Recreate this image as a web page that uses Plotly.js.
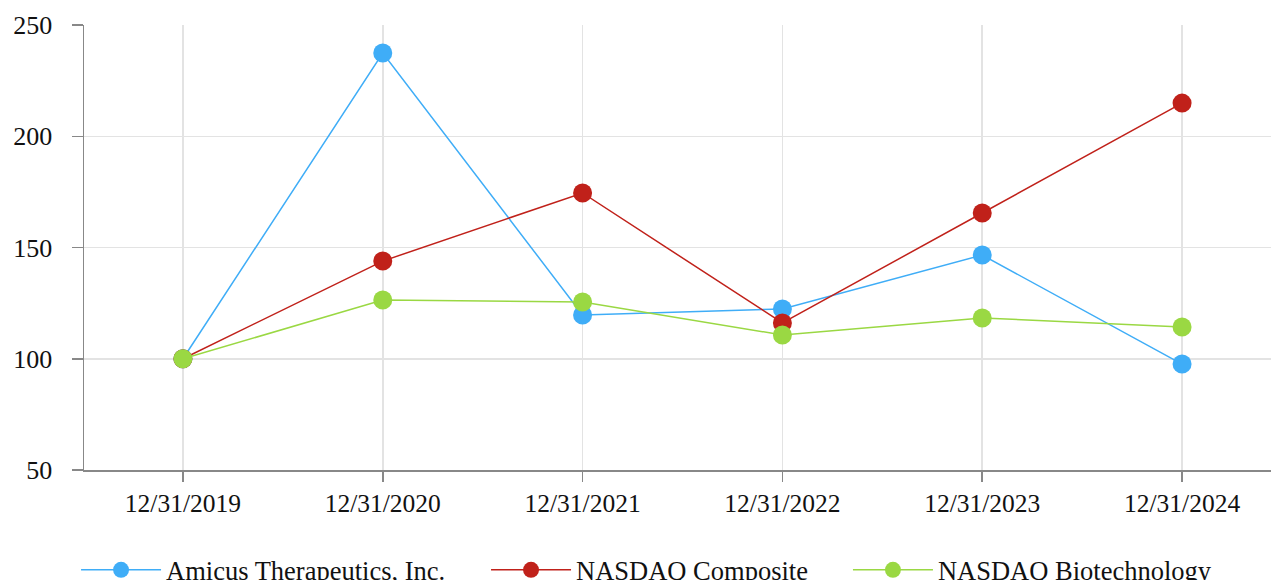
<!DOCTYPE html>
<html>
<head>
<meta charset="utf-8">
<script src="https://cdn.plot.ly/plotly-3.0.1.min.js"></script>
<style>html,body{margin:0;padding:0;background:#fff;}#chart{width:1271px;height:580px;}</style>
</head>
<body>
<div id="chart"></div>
<script>
const categories = ["12/31/2019", "12/31/2020", "12/31/2021", "12/31/2022", "12/31/2023", "12/31/2024"];
const amicus = [100, 237.4, 119.7, 122.4, 146.6, 97.6];
const nasdaqComposite = [100, 143.9, 174.5, 116.1, 165.5, 214.9];
const nasdaqBiotech = [100, 126.4, 125.5, 110.7, 118.3, 114.3];
const seriesNames = ["Amicus Therapeutics, Inc.", "NASDAQ Composite", "NASDAQ Biotechnology"];
const colors = ["#3fadf7", "#c0211a", "#9ad843"];
const legendIds = ["legend", "legend2", "legend3"];
const legendX = [-0.0067, 0.3387, 0.6436];

const allSeries = [amicus, nasdaqComposite, nasdaqBiotech];
const traces = allSeries.map((vals, i) => ({
  type: "scatter",
  mode: "lines+markers",
  x: categories,
  y: vals,
  name: seriesNames[i],
  legend: legendIds[i],
  line: {color: colors[i], width: 1.5},
  marker: {color: colors[i], size: 19}
}));

const serif = "'Liberation Serif', 'Times New Roman', Times, serif";
const layout = {
  width: 1271, height: 580,
  margin: {l: 84, r: 0, t: 25, b: 110, autoexpand: false},
  paper_bgcolor: "#fff", plot_bgcolor: "#fff",
  font: {family: serif, size: 26, color: "#111"},
  showlegend: true,
  xaxis: {
    type: "category", range: [-0.495, 5.445],
    showgrid: true, gridcolor: "#e3e3e3", gridwidth: 1.5,
    showline: true, linecolor: "#888", linewidth: 1.5,
    ticks: "outside", ticklen: 10, tickcolor: "#888", tickwidth: 1.5,
    tickfont: {family: serif, size: 25.5, color: "#111"},
    zeroline: false, fixedrange: true
  },
  yaxis: {
    range: [50, 250], tickvals: [50, 100, 150, 200, 250],
    showgrid: true, gridcolor: "#e3e3e3", gridwidth: 1.5,
    showline: true, linecolor: "#888", linewidth: 1.5,
    ticks: "outside", ticklen: 11, tickcolor: "#888", tickwidth: 1.5,
    tickfont: {family: serif, size: 26, color: "#111"},
    zeroline: false, fixedrange: true, ticklabelstandoff: 14
  }
};
legendIds.forEach((id, i) => {
  layout[id] = {orientation: "h", x: legendX[i], xanchor: "left", y: -0.225, yanchor: "middle",
                font: {family: serif, size: 26.5, color: "#111"}, itemwidth: 80, bgcolor: "rgba(0,0,0,0)"};
});

Plotly.newPlot("chart", traces, layout, {displayModeBar: false, staticPlot: true});
</script>
</body>
</html>
